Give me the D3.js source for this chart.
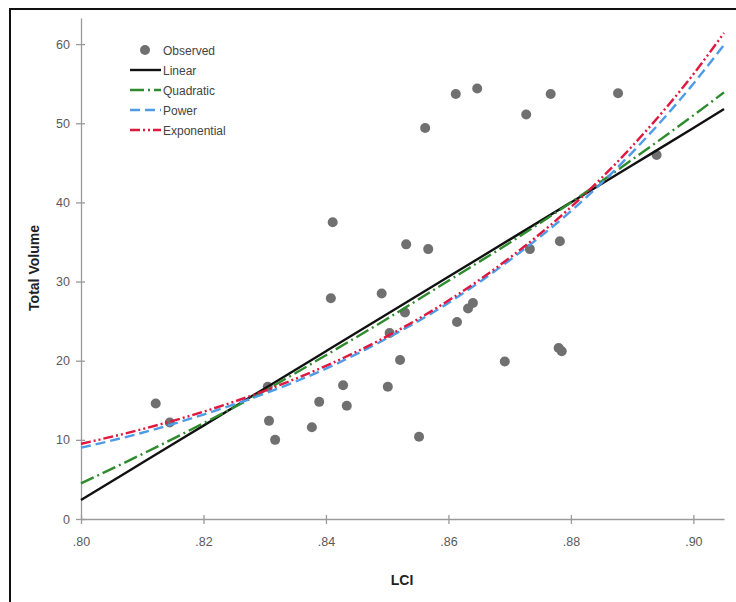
<!DOCTYPE html>
<html>
<head>
<meta charset="utf-8">
<script src="https://cdn.jsdelivr.net/npm/d3@7"></script>
<style>
  body { margin: 0; background: #fff; }
  svg { font-family: "Liberation Sans", Arial, sans-serif; }
</style>
</head>
<body>
<svg width="736" height="602"></svg>
<script>
// Observed points (LCI, Total Volume)
const lci = [.8122, .8145, .8305, .8307, .8317, .8377, .8389, .8428, .8434, .8408, .8411, .8491,
             .8501, .8504, .8521, .8529, .8531, .8552, .8562, .8567, .8612, .8614, .8632, .8640,
             .8647, .8692, .8727, .8733, .8767, .8780, .8785, .8782, .8877, .8940];
const volume = [14.6, 12.2, 16.7, 12.4, 10.0, 11.6, 14.8, 16.9, 14.3, 27.9, 37.5, 28.5,
                16.7, 23.5, 20.1, 26.1, 34.7, 10.4, 49.4, 34.1, 53.7, 24.9, 26.6, 27.3,
                54.4, 19.9, 51.1, 34.1, 53.7, 21.6, 21.2, 35.1, 53.8, 46.0];

// Fitted curves at these LCI values
const fitX = [.80, .81, .82, .83, .84, .85, .86, .87, .88, .89, .90, .905];
const linearFit = [2.4, 7.1, 11.8, 16.5, 21.2, 25.9, 30.6, 35.3, 40.0, 44.7, 49.4, 51.8];
const quadraticFit = [4.5, 8.2, 12.1, 16.2, 20.7, 25.3, 30.1, 34.9, 40.0, 45.4, 51.0, 53.9];
const powerFit = [9.0, 10.9, 13.2, 15.85, 19.0, 22.85, 27.3, 32.7, 38.9, 46.3, 55.0, 59.9];
const exponentialFit = [9.5, 11.35, 13.56, 16.2, 19.35, 23.1, 27.6, 33.0, 39.4, 47.1, 56.2, 61.4];

const xTicks = [.80, .82, .84, .86, .88, .90];
const yTicks = [0, 10, 20, 30, 40, 50, 60];

let svg = d3.select('svg');

// frame (only top and left edges show in the crop)
svg.append('rect')
    .attr('x', 10).attr('y', 9)
    .attr('width', 760).attr('height', 640)
    .attr('fill', 'none')
    .attr('stroke', '#111')
    .attr('stroke-width', 2);

let x = d3.scaleLinear().domain([0.80, 0.905]).range([81, 724]);
let y = d3.scaleLinear().domain([0, 63.3]).range([519, 18]);

// axes
let fmt = d => d3.format('.2f')(d).replace(/^0/, '');

let xAxis = svg.append('g')
    .attr('transform', 'translate(0,' + y(0) + ')')
    .call(d3.axisBottom(x).tickValues(xTicks).tickFormat(fmt).tickSizeInner(5).tickSizeOuter(0).tickPadding(13));

let yAxis = svg.append('g')
    .attr('transform', 'translate(' + x(0.80) + ',0)')
    .call(d3.axisLeft(y).tickValues(yTicks).tickSizeInner(5).tickSizeOuter(0).tickPadding(6));

[xAxis, yAxis].forEach(g => {
    g.select('.domain').attr('stroke', '#9a9a9a').attr('stroke-width', 1.3);
    g.selectAll('.tick line').attr('stroke', '#9a9a9a').attr('stroke-width', 1.3);
    g.selectAll('.tick text')
        .attr('fill', '#5a5a5a')
        .style('font-size', '12.5px')
        .style('font-family', '"Liberation Sans", Arial, sans-serif');
});
// ticks cross the axis a little
xAxis.selectAll('.tick line').attr('y1', -4);
yAxis.selectAll('.tick line').attr('x1', 4);

// axis titles
svg.append('text')
    .attr('text-anchor', 'middle')
    .attr('transform', 'translate(39,268)rotate(-90)')
    .attr('font-size', '14px')
    .attr('font-weight', 'bold')
    .attr('fill', '#222')
    .text('Total Volume');

svg.append('text')
    .attr('text-anchor', 'middle')
    .attr('x', 402).attr('y', 585)
    .attr('font-size', '14px')
    .attr('font-weight', 'bold')
    .attr('fill', '#222')
    .text('LCI');

// fit lines
let fits = [
    { name: 'Linear', vals: linearFit, color: '#111111', dash: null, width: 2.4 },
    { name: 'Quadratic', vals: quadraticFit, color: '#2e8b2e', dash: '14,4,2,4', width: 2.4 },
    { name: 'Power', vals: powerFit, color: '#4f9be8', dash: '10,5', width: 2.4 },
    { name: 'Exponential', vals: exponentialFit, color: '#e0173f', dash: '10,3,2,3,2,3', width: 2.4 }
];

let line = d3.line()
    .x((d, i) => x(fitX[i]))
    .y(d => y(d))
    .curve(d3.curveMonotoneX);

// observed points
svg.append('g').selectAll('circle')
    .data(lci)
    .enter().append('circle')
    .attr('cx', d => x(d))
    .attr('cy', (d, i) => y(volume[i]))
    .attr('r', 5)
    .attr('fill', '#707070');

svg.append('g').selectAll('path')
    .data(fits)
    .enter().append('path')
    .attr('d', d => line(d.vals))
    .attr('fill', 'none')
    .attr('stroke', d => d.color)
    .attr('stroke-width', d => d.width)
    .attr('stroke-dasharray', d => d.dash);

// legend
let legend = svg.append('g');
legend.append('circle')
    .attr('cx', 145).attr('cy', 50).attr('r', 5)
    .attr('fill', '#707070');
legend.append('text')
    .attr('x', 163).attr('y', 55)
    .attr('font-size', '12px').attr('fill', '#444')
    .text('Observed');

fits.forEach((f, i) => {
    let ly = 70 + i * 20;
    legend.append('line')
        .attr('x1', 130).attr('x2', 161)
        .attr('y1', ly).attr('y2', ly)
        .attr('stroke', f.color)
        .attr('stroke-width', 2.4)
        .attr('stroke-dasharray', f.dash);
    legend.append('text')
        .attr('x', 163).attr('y', ly + 5)
        .attr('font-size', '12px').attr('fill', '#444')
        .text(f.name);
});
</script>
</body>
</html>
